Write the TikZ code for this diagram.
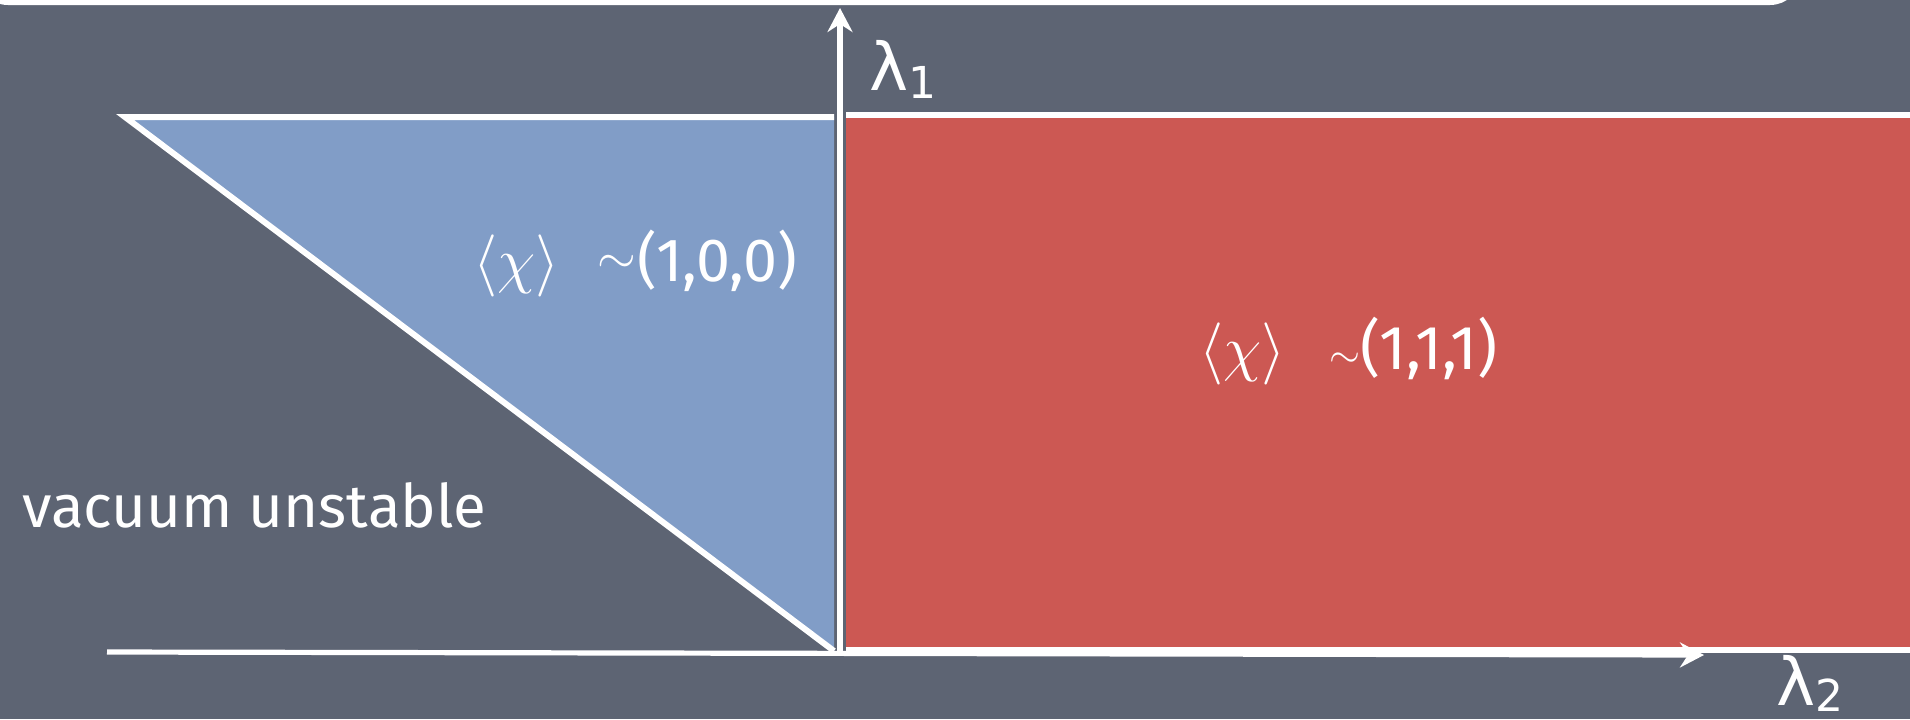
\documentclass[tikz,border=0pt]{standalone}
\usepackage{fontspec}
\setmainfont{Fira Sans}
\newfontfamily\lamfont{DejaVu Sans}
\usetikzlibrary{arrows.meta}
\definecolor{bg}{RGB}{93,100,115}
\definecolor{bluef}{RGB}{129,157,199}
\definecolor{redf}{RGB}{204,88,83}
\tikzset{
  edge/.style={white,line width=3pt},
  axis/.style={white,line width=2.6pt,-{Stealth[length=12pt,width=12.5pt,inset=4pt]}},
  lab/.style={text=white,inner sep=0pt,anchor=base west},
}
\newcommand{\chilab}{{\fontsize{24.88}{30}\selectfont\scalebox{1.25}{$\langle\chi\rangle$}}}
\newcommand{\tlab}[2]{{\fontsize{24.88}{30}\selectfont\raisebox{#2}{\scalebox{#1}{$\sim$}}}}
\begin{document}
\begin{tikzpicture}[x=0.5pt,y=-0.5pt]
\fill[bg] (0,0) rectangle (1910,719);
\useasboundingbox (0,0) rectangle (1910,719);
% top rounded frame (bottom edge of title bar)
\begin{scope}
\clip (0,0) rectangle (1910,719);
\draw[edge,rounded corners=14pt] (-20,-80) -- (-20,2) -- (1798,2) -- (1798,-80);
\end{scope}
% regions
\coordinate (A) at (125,117);
\coordinate (B) at (834,117);
\coordinate (C) at (834,651);
\fill[bluef] (A) -- (B) -- (C) -- cycle;
\draw[edge,line join=miter] (B) -- (A) -- (C);
\coordinate (R1) at (846,116);
\coordinate (R2) at (1915,651);
\fill[redf] (R1) rectangle (R2);
\coordinate (RL) at (846,115);
\coordinate (RT) at (1915,115);
\draw[edge] (RL) -- (RT);
\coordinate (RB1) at (846,650);
\coordinate (RB2) at (1915,650);
\draw[edge] (RB1) -- (RB2);
% axes
\coordinate (O) at (840,652);
\coordinate (Xs) at (107,652);
\coordinate (Xe) at (1704,655);
\coordinate (Ye) at (840,8);
\draw[axis] (Xs) -- (Xe);
\draw[axis] (O) -- (Ye);
% labels
\node[lab,font=\lamfont\fontsize{33}{40}\selectfont] (l1) at (869,90) {λ\raisebox{-4pt}{\fontsize{22}{26}\selectfont 1}};
\node[lab,font=\lamfont\fontsize{33}{40}\selectfont] (l2) at (1776,705) {λ\raisebox{-3pt}{\fontsize{22}{26}\selectfont 2}};
\node[lab,font=\fontsize{30.5}{36}\selectfont] (t1) at (473,281) {\chilab\hspace{19pt}\tlab{1.0}{4pt}\hspace{0.5pt}(1,0,0)};
\node[lab,font=\fontsize{31}{36}\selectfont] (t2) at (1199,369) {\chilab\hspace{22pt}\tlab{0.8}{1pt}\hspace{0pt}(1,1,1)};
\node[lab,font=\fontsize{30}{34}\selectfont] (vu) at (22,527) {vacuum unstable};
\end{tikzpicture}
\end{document}
